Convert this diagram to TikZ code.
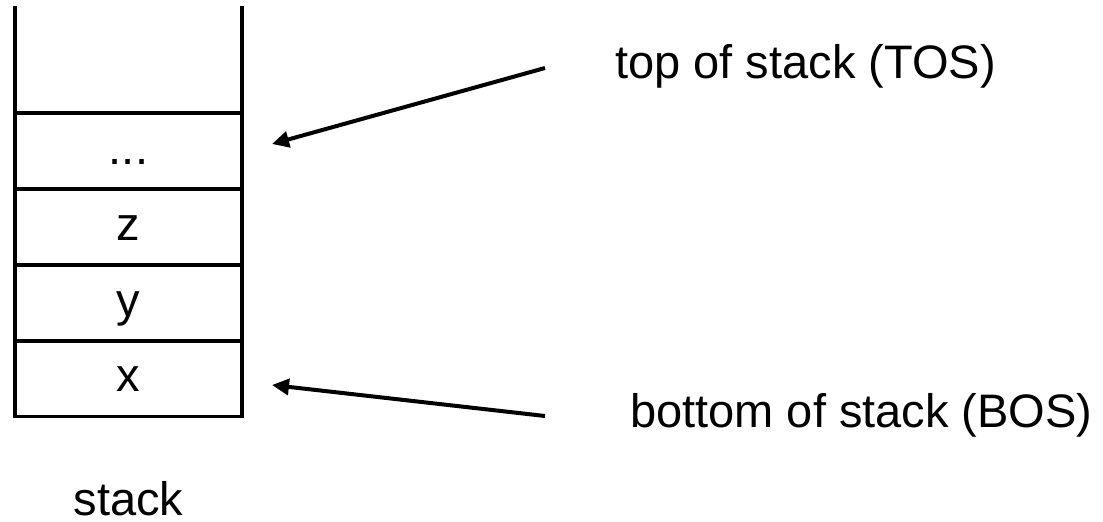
\documentclass[tikz,border=0pt]{standalone}
\usepackage{fontspec}
\setmainfont{Liberation Sans}
\usetikzlibrary{arrows.meta}
\begin{document}
\begin{tikzpicture}[x=1pt,y=-1pt,
  wall/.style={line width=3.5pt,line cap=rect},
  cell/.style={draw,line width=3.5pt,minimum width=227pt,minimum height=76pt,
    inner sep=0pt,text height=26pt,text depth=0pt,font=\fontsize{47}{56}\selectfont},
  lbl/.style={anchor=base west,inner sep=0pt,font=\fontsize{47}{56}\selectfont},
  pointer/.style={line width=4pt,-{Triangle[length=17pt,width=16pt]}}]
  \useasboundingbox (0,0) rectangle (1103,522);
  % open side walls of the stack
  \coordinate (lt) at (15,8);
  \coordinate (rt) at (242,8);
  \coordinate (lb) at (15,416);
  \coordinate (rb) at (242,416);
  \draw[wall] (lt) -- (lb);
  \draw[wall] (rt) -- (rb);
  % stack cells, bottom to top
  \node[cell] (cx) at (128.5,378.5) {x};
  \node[cell] (cy) at (128.5,303) {y};
  \node[cell] (cz) at (128.5,227) {z};
  \node[cell] (cd) at (128.5,151) {...};
  % labels
  \node[lbl] (tos) at (615,78) {top of stack (TOS)};
  \node[lbl] (bos) at (630,427) {bottom of stack (BOS)};
  \node[anchor=base,inner sep=0pt,font=\fontsize{47}{56}\selectfont] (stk) at (128.5,515) {stack};
  % pointers
  \coordinate (tosfrom) at (545,68);
  \coordinate (tosto) at (272,144);
  \coordinate (bosfrom) at (545,416);
  \coordinate (bosto) at (272,385);
  \draw[pointer] (tosfrom) -- (tosto);
  \draw[pointer] (bosfrom) -- (bosto);
\end{tikzpicture}
\end{document}
